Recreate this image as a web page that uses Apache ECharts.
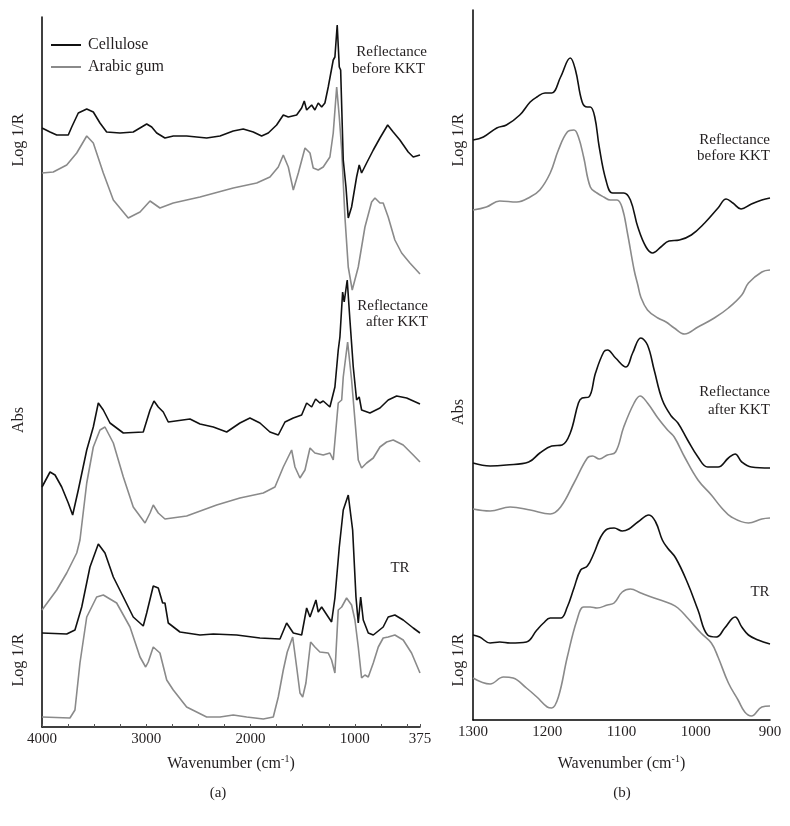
<!DOCTYPE html>
<html><head><meta charset="utf-8">
<script src="https://cdn.jsdelivr.net/npm/echarts@6/dist/echarts.min.js"></script>
<style>html,body{margin:0;padding:0;background:#fff}#c{width:790px;height:826px}</style>
</head><body><div id="c"></div>
<script>
// Panel (a): wavenumber (cm-1) vs offset intensity (arbitrary units)
const aTicks = [4000, 3000, 2000, 1000, 375];
const bTicks = [1300, 1200, 1100, 1000, 900];
const seriesNames = ['Cellulose', 'Arabic gum'];

const aCellBefore = [[4000,59.9],[3923,59.5],[3859,59.2],[3748,59.2],[3715,60.0],[3652,61.4],[3571,61.8],[3508,61.5],[3444,60.4],[3380,59.5],[3252,59.4],[3125,59.5],[2996,60.3],[2948,60.0],[2900,59.4],[2821,58.9],[2741,59.1],[2613,59.1],[2421,58.9],[2293,59.1],[2166,59.6],[2070,59.8],[1974,59.5],[1894,59.1],[1830,59.4],[1750,60.2],[1686,61.2],[1638,61.0],[1558,61.2],[1510,61.9],[1485,62.6],[1462,61.7],[1414,62.2],[1383,61.7],[1351,62.4],[1318,62.0],[1287,62.4],[1255,64.0],[1207,66.7],[1191,67.0],[1169,70.2],[1149,66.0],[1136,65.7],[1111,56.7],[1085,54.0],[1063,50.9],[1031,52.0],[983,55.0],[958,56.2],[935,55.4],[887,56.4],[823,57.7],[759,58.9],[685,60.2],[632,59.5],[568,58.7],[488,57.5],[440,57.0],[375,57.2]];
const aGumBefore = [[4000,55.4],[3892,55.5],[3763,56.2],[3667,57.4],[3571,59.1],[3508,58.4],[3412,55.4],[3316,52.7],[3173,50.9],[3060,51.5],[2964,52.6],[2869,51.9],[2741,52.4],[2485,53.0],[2166,53.9],[1941,54.4],[1814,55.0],[1734,56.0],[1686,57.2],[1638,56.0],[1590,53.7],[1542,55.4],[1478,57.9],[1430,57.4],[1399,55.9],[1351,55.7],[1303,56.0],[1239,57.0],[1207,59.4],[1174,64.0],[1149,61.0],[1126,57.7],[1095,51.0],[1063,46.0],[1025,43.7],[967,46.0],[903,50.0],[839,52.5],[807,52.9],[759,52.4],[728,52.4],[680,51.0],[616,48.7],[551,47.4],[472,46.4],[375,45.3]];
const aCellAfter = [[4000,24.0],[3923,25.5],[3875,25.2],[3811,24.0],[3748,22.4],[3706,21.2],[3652,23.7],[3571,27.7],[3508,30.0],[3460,32.4],[3412,31.7],[3348,30.4],[3220,29.4],[3029,29.5],[2964,31.7],[2926,32.6],[2885,32.0],[2837,31.5],[2789,30.5],[2581,30.8],[2485,30.3],[2357,30.0],[2229,29.5],[2102,30.4],[2006,30.9],[1910,30.4],[1814,29.5],[1734,29.2],[1670,30.5],[1590,30.9],[1510,31.2],[1462,32.4],[1414,32.0],[1376,32.8],[1335,32.4],[1303,32.6],[1239,32.0],[1191,34.0],[1159,37.7],[1143,39.0],[1117,43.5],[1102,42.5],[1073,44.7],[1047,40.7],[1015,36.0],[983,32.7],[958,33.0],[935,31.7],[855,31.4],[759,31.9],[680,32.7],[599,33.1],[503,32.9],[375,32.3]];
const aGumAfter = [[4000,11.7],[3859,13.7],[3763,15.4],[3667,17.4],[3636,18.7],[3571,24.4],[3508,28.0],[3444,29.7],[3396,30.0],[3316,28.4],[3220,25.0],[3125,22.0],[3012,20.4],[2964,21.4],[2933,22.2],[2885,21.4],[2821,20.8],[2613,21.1],[2325,22.2],[2102,22.9],[1878,23.4],[1766,24.0],[1686,26.0],[1606,27.7],[1574,26.0],[1526,24.9],[1478,25.7],[1430,27.9],[1383,27.4],[1303,27.2],[1239,27.4],[1207,26.7],[1159,32.4],[1126,32.7],[1111,35.0],[1069,38.5],[1031,34.7],[999,30.7],[967,26.7],[935,25.9],[887,26.4],[823,26.9],[759,28.0],[695,28.5],[632,28.7],[536,28.2],[440,27.2],[375,26.5]];
const aCellTR = [[4000,9.4],[3763,9.3],[3684,9.7],[3619,12.0],[3540,16.0],[3460,18.3],[3396,17.4],[3316,15.0],[3220,13.0],[3125,11.0],[3029,10.1],[2996,11.4],[2933,14.1],[2885,13.9],[2843,12.4],[2821,12.4],[2789,10.4],[2677,9.5],[2485,9.2],[2357,9.3],[2133,9.2],[1910,8.9],[1718,8.8],[1654,10.4],[1590,9.4],[1510,9.2],[1462,11.9],[1430,11.0],[1373,12.7],[1351,11.5],[1318,12.0],[1255,11.0],[1223,10.5],[1191,12.9],[1149,18.0],[1111,21.7],[1063,23.2],[1021,19.7],[989,13.0],[967,10.4],[944,13.0],[919,10.7],[871,9.4],[823,9.2],[728,10.0],[680,11.0],[616,11.2],[536,10.7],[440,9.9],[375,9.4]];
const aGumTR = [[4000,1.0],[3732,0.9],[3684,1.7],[3636,6.4],[3571,11.0],[3476,13.0],[3412,13.2],[3284,12.4],[3156,10.0],[3060,7.0],[3006,6.0],[2981,6.5],[2933,8.0],[2869,7.4],[2804,4.7],[2741,3.7],[2613,2.0],[2421,1.0],[2293,1.0],[2166,1.2],[2037,1.0],[1878,0.8],[1782,1.0],[1734,3.0],[1686,5.7],[1648,7.5],[1596,9.0],[1558,6.0],[1526,3.4],[1500,3.0],[1469,4.4],[1424,8.5],[1383,8.0],[1335,7.5],[1255,7.4],[1223,6.7],[1191,5.4],[1159,11.7],[1126,12.0],[1079,12.9],[1031,12.2],[999,10.7],[967,8.0],[935,4.9],[903,5.2],[871,5.0],[823,6.4],[775,8.0],[728,8.9],[680,9.0],[616,9.2],[536,8.7],[456,7.4],[375,5.4]];

// Panel (b): 1300-900 cm-1 detail
const bCellBefore = [[1300,58.0],[1286,58.3],[1268,59.2],[1255,59.5],[1237,60.5],[1223,61.8],[1214,62.3],[1203,62.7],[1194,62.7],[1182,64.3],[1169,66.2],[1162,65.0],[1153,61.8],[1146,61.3],[1142,61.3],[1136,60.3],[1130,57.3],[1121,54.0],[1112,52.7],[1097,52.7],[1088,52.0],[1078,49.3],[1067,47.3],[1058,46.7],[1047,47.3],[1036,47.9],[1022,48.0],[1006,48.5],[988,49.7],[970,51.2],[959,52.1],[950,51.7],[939,51.1],[925,51.6],[911,52.0],[900,52.2]];
const bGumBefore = [[1300,51.0],[1282,51.3],[1264,51.9],[1241,51.8],[1223,52.3],[1210,53.0],[1196,54.7],[1185,57.0],[1173,58.8],[1164,59.0],[1158,58.3],[1151,56.3],[1142,53.3],[1133,52.7],[1124,52.3],[1115,52.0],[1106,52.0],[1099,51.2],[1092,48.7],[1083,45.0],[1078,43.5],[1074,42.3],[1065,41.0],[1051,40.2],[1040,39.8],[1029,39.2],[1015,38.6],[997,39.3],[975,40.2],[956,41.2],[938,42.5],[929,43.7],[911,44.8],[900,45.0]];
const bCellAfter = [[1300,25.7],[1277,25.4],[1255,25.5],[1225,25.8],[1210,26.7],[1194,27.4],[1180,27.5],[1169,28.7],[1158,31.7],[1153,32.2],[1144,32.3],[1135,34.7],[1124,36.8],[1119,37.0],[1108,36.2],[1094,35.3],[1085,36.7],[1074,38.2],[1065,37.5],[1056,35.0],[1045,32.0],[1033,30.4],[1024,29.7],[1011,28.0],[997,26.3],[984,25.3],[970,25.3],[956,26.2],[947,26.6],[938,25.8],[925,25.3],[900,25.2]];
const bGumAfter = [[1300,21.1],[1277,20.9],[1250,21.3],[1223,21.0],[1196,20.6],[1182,21.3],[1164,23.7],[1146,26.2],[1139,26.4],[1130,26.1],[1119,26.5],[1108,26.8],[1097,29.3],[1083,31.7],[1075,32.4],[1065,31.7],[1051,30.2],[1038,29.0],[1029,28.3],[1015,26.3],[997,24.0],[979,22.5],[965,21.2],[952,20.3],[929,19.7],[911,20.1],[900,20.2]];
const bCellTR = [[1300,8.5],[1291,8.3],[1277,7.7],[1264,7.8],[1250,7.7],[1228,7.8],[1214,9.0],[1205,9.7],[1196,10.2],[1182,10.2],[1173,11.3],[1164,13.2],[1155,15.0],[1146,15.4],[1137,16.7],[1128,18.3],[1119,19.1],[1110,19.2],[1099,18.9],[1090,19.1],[1078,19.8],[1063,20.5],[1054,19.8],[1045,18.0],[1038,17.2],[1027,16.2],[1011,13.7],[997,11.0],[984,8.5],[972,8.3],[961,9.2],[947,10.3],[938,9.3],[929,8.5],[916,8.0],[900,7.6]];
const bGumTR = [[1300,4.2],[1277,3.6],[1259,4.3],[1246,4.2],[1228,3.2],[1214,2.3],[1200,1.3],[1194,1.2],[1185,2.3],[1173,6.3],[1160,10.0],[1151,11.3],[1142,11.3],[1133,11.2],[1119,11.5],[1110,11.7],[1099,12.8],[1088,13.1],[1074,12.7],[1056,12.2],[1033,11.6],[1024,11.2],[1011,10.2],[993,8.7],[979,7.7],[970,6.3],[956,3.7],[943,2.0],[934,0.8],[925,0.4],[911,1.3],[900,1.4]];

const BLACK = '#111111', GRAY = '#8a8a8a';
const FONT = '"Liberation Serif", "DejaVu Serif", serif';
const TXT = '#231f20';
const FS = 16;
const FA = 15;

function line(name, data, color, grid, smooth) {
  return { type: 'line', name: name, data: data, xAxisIndex: grid, yAxisIndex: grid,
    symbol: 'none', smooth: smooth, lineStyle: { color: color, width: 1.6 }, itemStyle: { color: color },
    animation: false, z: color === BLACK ? 3 : 2 };
}
const aMinor = [];
for (let w = 3750; w > 375; w -= 250) aMinor.push(w);

const chart = echarts.init(document.getElementById('c'), null, { renderer: 'canvas' });
function txt(x, y, s, opts) {
  return { type: 'text', x: x, y: y, style: Object.assign({ text: s, fill: TXT, font: FA + 'px ' + FONT }, opts || {}) };
}
function vtxt(x, y, s) {
  return { type: 'text', x: x, y: y, rotation: Math.PI / 2,
    style: { text: s, fill: TXT, font: FS + 'px ' + FONT, align: 'center', verticalAlign: 'middle' } };
}
const xName = { rich: { sup: { fontSize: 10, verticalAlign: 'top', padding: [0, 0, 9, 0], fontFamily: FONT, color: TXT } } };
const plain = v => String(v);
chart.setOption({
  backgroundColor: '#fff',
  animation: false,
  legend: { data: seriesNames, orient: 'vertical', left: 46, top: 32, itemWidth: 30, itemHeight: 2, itemGap: 6,
    icon: 'rect', textStyle: { fontFamily: FONT, fontSize: FS, color: TXT, padding: [0, 0, 0, 2] } },
  grid: [
    { left: 42, right: 370, top: 17, bottom: 99 },
    { left: 473, right: 20, top: 10, bottom: 106 }
  ],
  xAxis: [
    { type: 'value', gridIndex: 0, min: 375, max: 4000, inverse: true,
      axisLine: { lineStyle: { color: '#000', width: 1.5 } },
      axisTick: { show: true, inside: true, length: 3, customValues: aTicks.concat(aMinor), lineStyle: { color: '#555' } },
      axisLabel: { customValues: aTicks, formatter: plain, fontFamily: FONT, fontSize: 15, color: TXT, margin: 5 },
      splitLine: { show: false },
      name: 'Wavenumber (cm{sup|-1})', nameLocation: 'middle', nameGap: 27,
      nameTextStyle: Object.assign({ fontFamily: FONT, fontSize: FS, color: TXT }, xName) },
    { type: 'value', gridIndex: 1, min: 900, max: 1300, inverse: true, interval: 100,
      axisLine: { lineStyle: { color: '#000', width: 1.5 } },
      axisTick: { show: false },
      axisLabel: { customValues: bTicks, formatter: plain, fontFamily: FONT, fontSize: 15, color: TXT, margin: 5 },
      splitLine: { show: false },
      name: 'Wavenumber (cm{sup|-1})', nameLocation: 'middle', nameGap: 34,
      nameTextStyle: Object.assign({ fontFamily: FONT, fontSize: FS, color: TXT }, xName) }
  ],
  yAxis: [
    { type: 'value', gridIndex: 0, min: 0, max: 71, axisLine: { show: true, lineStyle: { color: '#000', width: 1.5 } },
      axisTick: { show: false }, axisLabel: { show: false }, splitLine: { show: false } },
    { type: 'value', gridIndex: 1, min: 0, max: 71, axisLine: { show: true, lineStyle: { color: '#000', width: 1.5 } },
      axisTick: { show: false }, axisLabel: { show: false }, splitLine: { show: false } }
  ],
  series: [
    line('Cellulose', aCellBefore, BLACK, 0, false),
    line('Arabic gum', aGumBefore, GRAY, 0, false),
    line('Cellulose', aCellAfter, BLACK, 0, false),
    line('Arabic gum', aGumAfter, GRAY, 0, false),
    line('Cellulose', aCellTR, BLACK, 0, false),
    line('Arabic gum', aGumTR, GRAY, 0, false),
    line('Cellulose', bCellBefore, BLACK, 1, 0.4),
    line('Arabic gum', bGumBefore, GRAY, 1, 0.4),
    line('Cellulose', bCellAfter, BLACK, 1, 0.4),
    line('Arabic gum', bGumAfter, GRAY, 1, 0.4),
    line('Cellulose', bCellTR, BLACK, 1, 0.4),
    line('Arabic gum', bGumTR, GRAY, 1, 0.4)
  ],
  graphic: [
    vtxt(19, 140, 'Log 1/R'), vtxt(19, 420, 'Abs'), vtxt(19, 660, 'Log 1/R'),
    vtxt(459, 140, 'Log 1/R'), vtxt(459, 412, 'Abs'), vtxt(459, 660, 'Log 1/R'),
    txt(427, 52, 'Reflectance', { align: 'right', verticalAlign: 'middle' }),
    txt(425, 69, 'before KKT', { align: 'right', verticalAlign: 'middle' }),
    txt(428, 306, 'Reflectance', { align: 'right', verticalAlign: 'middle' }),
    txt(428, 322, 'after KKT', { align: 'right', verticalAlign: 'middle' }),
    txt(400, 568, 'TR', { align: 'center', verticalAlign: 'middle' }),
    txt(770, 140, 'Reflectance', { align: 'right', verticalAlign: 'middle' }),
    txt(770, 156, 'before KKT', { align: 'right', verticalAlign: 'middle' }),
    txt(770, 392, 'Reflectance', { align: 'right', verticalAlign: 'middle' }),
    txt(770, 410, 'after KKT', { align: 'right', verticalAlign: 'middle' }),
    txt(760, 592, 'TR', { align: 'center', verticalAlign: 'middle' }),
    txt(218, 793, '(a)', { align: 'center', verticalAlign: 'middle' }),
    txt(622, 793, '(b)', { align: 'center', verticalAlign: 'middle' })
  ]
});
</script></body></html>
